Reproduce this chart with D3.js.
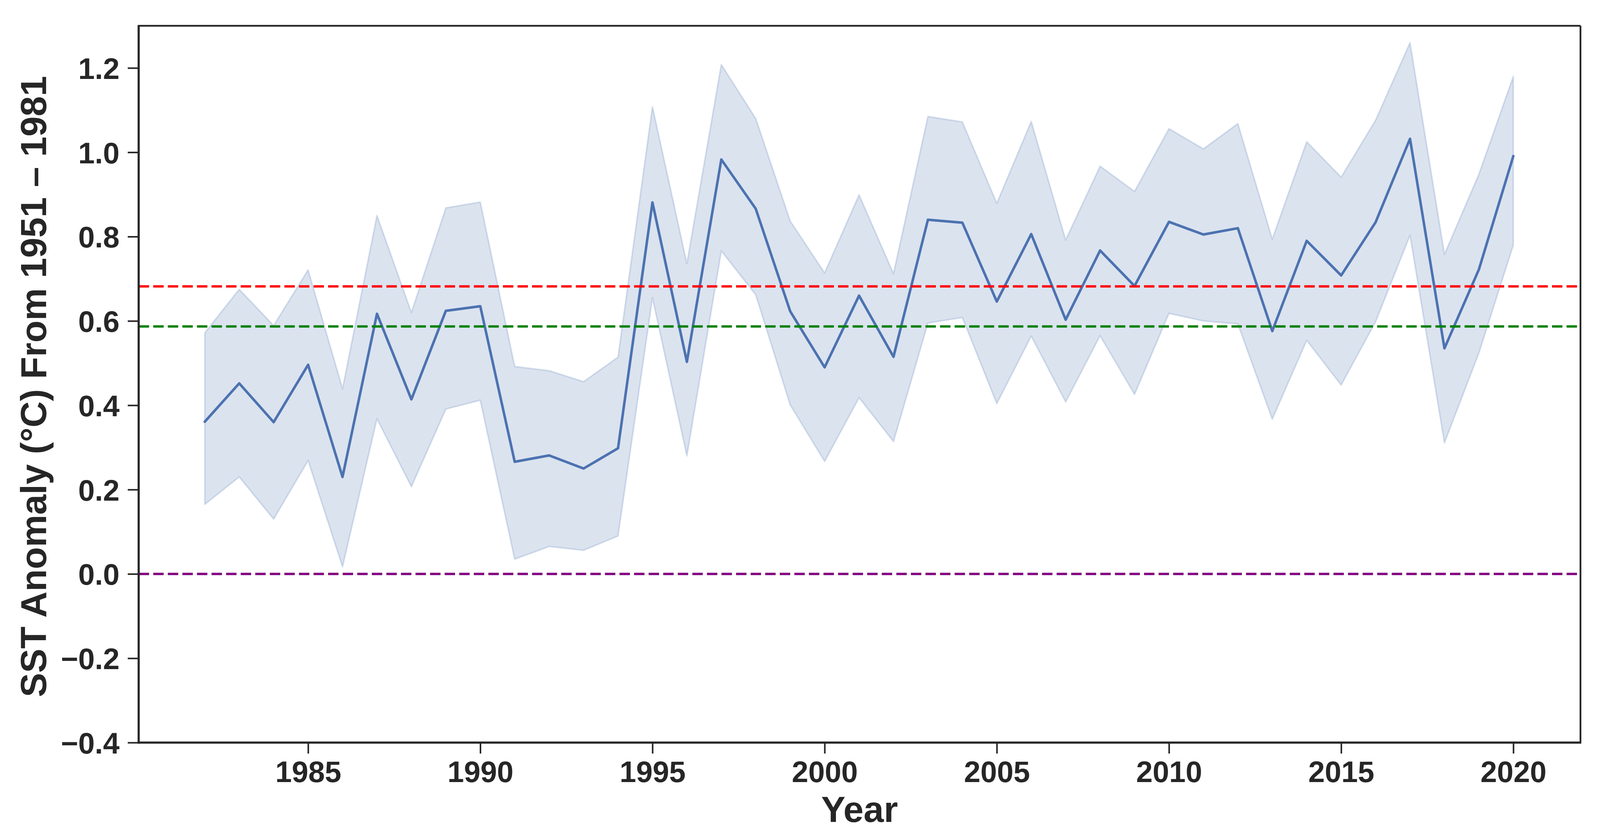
<!DOCTYPE html>
<html>
<head>
<meta charset="utf-8">
<script src="https://cdn.jsdelivr.net/npm/d3@7/dist/d3.min.js"></script>
<style>
  html, body { margin: 0; padding: 0; background: #ffffff; }
  svg { display: block; }
  text { font-family: "Liberation Sans", Arial, Helvetica, sans-serif; font-weight: bold; fill: #262626; }
</style>
</head>
<body>
<script>
// ---- data ----
const years = [1982,1983,1984,1985,1986,1987,1988,1989,1990,1991,1992,1993,1994,1995,1996,1997,1998,1999,2000,2001,2002,2003,2004,2005,2006,2007,2008,2009,2010,2011,2012,2013,2014,2015,2016,2017,2018,2019,2020];
const meanVals = [0.361,0.452,0.360,0.496,0.230,0.617,0.414,0.624,0.635,0.266,0.281,0.250,0.298,0.881,0.503,0.983,0.866,0.623,0.490,0.660,0.515,0.840,0.833,0.646,0.806,0.603,0.767,0.683,0.835,0.805,0.820,0.576,0.790,0.708,0.834,1.032,0.535,0.722,0.991];
const upperVals = [0.572,0.675,0.589,0.721,0.439,0.850,0.620,0.868,0.882,0.492,0.482,0.456,0.514,1.108,0.736,1.208,1.080,0.837,0.714,0.899,0.712,1.085,1.072,0.879,1.073,0.792,0.967,0.907,1.056,1.008,1.068,0.794,1.025,0.941,1.076,1.260,0.758,0.948,1.180];
const lowerVals = [0.165,0.230,0.130,0.269,0.017,0.368,0.207,0.391,0.412,0.035,0.065,0.056,0.090,0.655,0.280,0.766,0.662,0.401,0.267,0.418,0.314,0.595,0.608,0.404,0.564,0.408,0.565,0.426,0.618,0.600,0.593,0.367,0.554,0.448,0.598,0.803,0.311,0.524,0.780];
const refValues = [0.682, 0.587, 0.0];
const refColors = ["#ff0000", "#008000", "#800080"];
const xTickVals = [1985,1990,1995,2000,2005,2010,2015,2020];
const yTickVals = [-0.4,-0.2,0.0,0.2,0.4,0.6,0.8,1.0,1.2];
const xLabel = "Year";
const yLabel = "SST Anomaly (°C) From 1951 – 1981";

// ---- layout ----
const W = 4097, H = 2139;
const L = 355, R = 4046, T = 66, B = 1900;
const ink = "#262626";
const blue = "#4c72b0";

const svg = d3.select("body").append("svg").attr("width", W).attr("height", H);

const x = d3.scaleLinear().domain([1980.08, 2021.95]).range([L, R]);
const y = d3.scaleLinear().domain([-0.4, 1.3]).range([B, T]);

const rows = years.map((yr, i) => ({ yr, m: meanVals[i], hi: upperVals[i], lo: lowerVals[i] }));

// band
const area = d3.area().x(d => x(d.yr)).y0(d => y(d.lo)).y1(d => y(d.hi));
svg.append("path").datum(rows).attr("d", area)
  .attr("fill", blue).attr("fill-opacity", 0.2)
  .attr("stroke", blue).attr("stroke-opacity", 0.2).attr("stroke-width", 4)
  .attr("stroke-linejoin", "round");

// mean line
const line = d3.line().x(d => x(d.yr)).y(d => y(d.m));
svg.append("path").datum(rows).attr("d", line)
  .attr("fill", "none").attr("stroke", blue).attr("stroke-width", 6.5)
  .attr("stroke-linejoin", "round").attr("stroke-linecap", "round");

// reference lines
svg.selectAll("line.ref").data(refValues).enter().append("line")
  .attr("class", "ref")
  .attr("x1", L).attr("x2", R)
  .attr("y1", d => y(d)).attr("y2", d => y(d))
  .attr("stroke", (d, i) => refColors[i])
  .attr("stroke-width", 6)
  .attr("stroke-dasharray", "26.7,10.6");

// axes
const fmt = v => d3.format(".1f")(v).replace("-", "\u2212");
const xAxis = d3.axisBottom(x).tickValues(xTickVals).tickSize(28).tickPadding(0).tickFormat(d3.format("d"));
const yAxis = d3.axisLeft(y).tickValues(yTickVals).tickSize(28).tickPadding(0).tickFormat(fmt);

const gx = svg.append("g").attr("transform", `translate(0,${B})`).call(xAxis);
gx.select(".domain").remove();
gx.selectAll(".tick line").attr("stroke", ink).attr("stroke-width", 4);
gx.selectAll(".tick text").attr("font-size", 76).attr("fill", ink)
  .attr("y", 101).attr("dy", null).style("font-family", '"Liberation Sans", Arial, sans-serif').style("font-weight", "bold");

const gy = svg.append("g").attr("transform", `translate(${L},0)`).call(yAxis);
gy.select(".domain").remove();
gy.selectAll(".tick line").attr("stroke", ink).attr("stroke-width", 4);
gy.selectAll(".tick text").attr("font-size", 76).attr("fill", ink)
  .attr("x", -49).attr("dy", "0.36em").style("font-family", '"Liberation Sans", Arial, sans-serif').style("font-weight", "bold");

// frame
svg.append("line").attr("x1", L).attr("x2", R).attr("y1", T).attr("y2", T).attr("stroke", ink).attr("stroke-width", 4.5);
svg.append("line").attr("x1", R).attr("x2", R).attr("y1", T).attr("y2", B).attr("stroke", ink).attr("stroke-width", 4.5);
svg.append("line").attr("x1", L).attr("x2", L).attr("y1", T - 2).attr("y2", B + 2.5).attr("stroke", ink).attr("stroke-width", 5.5);
svg.append("line").attr("x1", L - 2.5).attr("x2", R + 2).attr("y1", B).attr("y2", B).attr("stroke", ink).attr("stroke-width", 5.5);

// labels
svg.append("text").attr("x", (L + R) / 2).attr("y", 2103).attr("text-anchor", "middle")
  .attr("font-size", 93).text(xLabel);
svg.append("text").attr("transform", `translate(118,${(T + B) / 2 + 6}) rotate(-90)`)
  .attr("text-anchor", "middle").attr("font-size", 93).text(yLabel);
</script>
</body>
</html>
